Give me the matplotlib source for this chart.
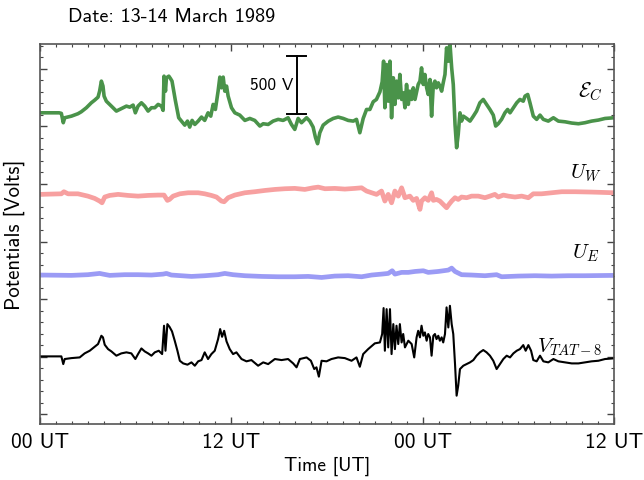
import matplotlib
matplotlib.use("Agg")
import matplotlib.pyplot as plt

plt.rcParams['mathtext.fontset'] = 'cm'

# ---------------- data (hours since 00 UT 13 March, volts) ----------------
ec_t = [0, 1.2, 1.34, 1.46, 1.55, 1.97, 2.38, 2.59, 2.91, 3.22, 3.43, 3.64, 3.74, 3.85, 3.95, 4.02,
        4.16, 4.37, 4.58, 4.79, 5.0, 5.21, 5.42, 5.63, 5.84, 5.98, 6.15, 6.36, 6.57, 6.78, 6.99,
        7.2, 7.41, 7.62, 7.72, 7.78, 7.87, 7.93, 8.08, 8.18, 8.28, 8.39, 8.49, 8.6, 8.7, 8.87,
        9.08, 9.25, 9.39, 9.54, 9.71, 9.92, 10.13, 10.33, 10.54, 10.71, 10.86, 11.0, 11.17, 11.28,
        11.38, 11.49, 11.59, 11.7, 11.8, 12.01, 12.22, 12.53, 12.85, 13.16, 13.47, 13.79, 14.0,
        14.31, 14.62, 14.94, 15.25, 15.56, 15.77, 15.98, 16.19, 16.4, 16.72, 16.92, 17.13, 17.28,
        17.41, 17.55, 17.76, 18.08, 18.39, 18.7, 19.02, 19.33, 19.65, 19.85, 20.06, 20.27, 20.48,
        20.69, 20.9, 21.1, 21.32, 21.46, 21.55, 21.63, 21.74, 21.84, 21.95, 22.05, 22.16, 22.26,
        22.36, 22.47, 22.57, 22.68, 22.78, 22.89, 22.99, 23.1, 23.2, 23.31, 23.41, 23.52, 23.72,
        23.83, 23.93, 24.04, 24.14, 24.25, 24.35, 24.46, 24.56, 24.67, 24.77, 24.87, 24.98, 25.08,
        25.19, 25.29, 25.4, 25.5, 25.61, 25.71, 25.82, 25.92, 26.03, 26.13, 26.23, 26.34, 26.44,
        26.55, 26.76, 26.97, 27.18, 27.38, 27.59, 27.8, 28.01, 28.22, 28.43, 28.58, 28.74, 28.95,
        29.16, 29.33, 29.48, 29.69, 29.9, 30.1, 30.31, 30.42, 30.59, 30.73, 30.94, 31.15, 31.36,
        31.57, 31.88, 32.2, 32.51, 32.93, 33.35, 33.77, 34.18, 34.6, 35.02, 35.44, 36.0]
ec_v = [17, 17, 12, -69, -26, -12, 9, 26, 61, 104, 127, 153, 205, 292, 249, 162,
        118, 90, 61, 32, 46, 61, 75, 66, 84, 17, 75, 104, 75, 32, 61,
        61, 90, 75, 38, 335, 205, 321, 335, 315, 292, 205, 124, 46, -26, -55,
        -90, -55, -107, -49, -84, -55, -20, -49, 17, -12, 90, 46, 205, 327,
        234, 327, 205, 249, 162, 61, 17, -3, -49, -32, -49, -98, -78,
        -84, -55, -40, -49, -26, -84, -127, -32, -69, -26, -55, -107, -199,
        -251, -156, -90, -55, -32, -20, -32, -49, -55, -40, -156, -32, 46,
        46, 113, 133, 199, 286, 465, 61, 436, 118, 465, -26, 321, 90,
        292, 147, 350, 133, 191, 61, 263, 90, 205, 133, 234, 133, 263,
        292, 407, 263, 350, 234, 176, 306, -12, 263, 292, 234, 277, 249,
        205, 277, 350, 581, 465, 624, 407, 263, -84, -286, -171, 17, -55,
        -12, -32, -55, -12, 32, 104, 133, 90, 46, -3, -98, -78, -40,
        17, 46, 17, 61, 104, 133, 118, 162, 176, 104, -12, -40, -3,
        -40, -55, -26, -55, -61, -72, -78, -69, -55, -46, -32, -26]

uw_t = [0, 1.34, 1.5, 1.76, 2.38, 3.0, 3.43, 3.74, 3.89, 4.06, 4.37, 4.9, 5.52, 6.15, 6.78,
        7.41, 7.78, 7.99, 8.12, 8.35, 8.77, 9.29, 9.92, 10.33, 10.75, 11.07, 11.38, 11.55, 11.8,
        12.22, 12.85, 13.47, 14.1, 14.73, 15.36, 15.98, 16.61, 17.13, 17.45, 17.87, 18.49, 19.12,
        19.75, 20.17, 20.48, 20.8, 21.11, 21.42, 21.63, 21.84, 22.05, 22.26, 22.47, 22.68, 22.89,
        23.2, 23.41, 23.62, 23.83, 23.93, 24.14, 24.35, 24.56, 24.67, 24.87, 25.08, 25.29, 25.5,
        25.65, 25.82, 26.03, 26.23, 26.44, 26.76, 27.07, 27.49, 27.91, 28.22, 28.53, 28.74, 29.06,
        29.37, 29.79, 30.21, 30.63, 30.94, 31.46, 32.09, 32.72, 33.56, 34.6, 36.0]
uw_v = [9, 14, 32, 14, 14, -6, -26, -49, -64, -14, 0, 9, 0, -6, 0,
        3, 3, -43, -35, -6, 14, 23, 23, 14, 0, -14, -49, -55, -20,
        3, 23, 32, 43, 52, 58, 61, 52, 66, 72, 58, 61, 55,
        61, 66, 38, 23, 9, 38, -49, 9, -64, 38, -6, 66, -20,
        -6, -43, -26, -121, -49, -20, -43, 23, -43, -35, -49, -78, -107,
        -78, -49, -20, -35, -14, -20, -6, -6, -20, -6, 9, -14, 3,
        -6, -14, -6, -20, 14, 14, 23, 32, 32, 29, 23]

ue_t = [0, 1.97, 3.0, 3.74, 3.95, 4.37, 5.31, 6.15, 6.99, 7.72, 7.93, 8.24, 8.87, 9.5, 10.33,
        11.17, 11.59, 12.1, 12.85, 13.9, 14.94, 15.98, 16.82, 17.66, 18.49, 19.33, 20.17, 20.8,
        21.42, 21.84, 22.09, 22.26, 22.68, 23.1, 23.52, 24.04, 24.35, 24.98, 25.61, 25.82, 26.03,
        26.44, 27.07, 27.91, 28.64, 28.95, 30.0, 31.05, 32.09, 33.14, 34.18, 36.0]
ue_v = [9, 6, 12, 23, 17, 6, 12, 12, 9, 17, 23, 9, 3, -3, 3,
        12, 23, 12, 3, -3, -6, -6, -3, -12, 0, 3, -6, 9,
        17, 23, 46, 17, 32, 32, 40, 46, 32, 40, 52, 69, 40,
        12, 9, 3, 12, -6, 0, 3, 0, 3, 3, 6]

vt_t = [0, 1.34, 1.46, 1.55, 1.97, 2.49, 2.8, 3.12, 3.43, 3.64, 3.85, 3.95, 4.06, 4.27, 4.48,
        4.79, 5.1, 5.42, 5.73, 5.98, 6.15, 6.36, 6.57, 6.78, 6.99, 7.2, 7.45, 7.66, 7.78, 7.87,
        7.99, 8.12, 8.28, 8.45, 8.62, 8.77, 8.98, 9.25, 9.5, 9.71, 9.92, 10.13, 10.33, 10.54,
        10.75, 10.96, 11.17, 11.3, 11.42, 11.55, 11.7, 11.9, 12.11, 12.32, 12.64, 12.95, 13.26,
        13.68, 14.0, 14.31, 14.73, 15.15, 15.56, 15.88, 16.09, 16.3, 16.72, 16.99, 17.2, 17.34,
        17.49, 17.66, 17.97, 18.28, 18.7, 19.12, 19.54, 19.85, 20.06, 20.27, 20.58, 21.0, 21.32,
        21.46, 21.55, 21.63, 21.74, 21.84, 21.95, 22.05, 22.16, 22.26, 22.36, 22.47, 22.57, 22.68,
        22.78, 22.89, 23.1, 23.31, 23.47, 23.62, 23.72, 23.83, 23.93, 24.04, 24.14, 24.25, 24.35,
        24.46, 24.56, 24.67, 24.77, 24.87, 24.98, 25.08, 25.19, 25.29, 25.4, 25.5, 25.61, 25.71,
        25.82, 25.92, 26.03, 26.13, 26.23, 26.34, 26.55, 26.76, 26.97, 27.18, 27.38, 27.59, 27.8,
        28.01, 28.22, 28.43, 28.64, 28.85, 29.06, 29.27, 29.48, 29.69, 29.9, 30.1, 30.31, 30.46,
        30.63, 30.8, 30.94, 31.15, 31.36, 31.57, 31.88, 32.2, 32.51, 32.93, 33.35, 33.77, 34.18,
        34.6, 35.02, 35.44, 36.0]
vt_v = [3, 3, -64, -20, -12, -6, 29, 52, 87, 110, 182, 168, 104, 66, 46,
        9, 29, 38, 29, -20, 23, 72, 46, 29, 9, 38, 52, 23, 269, 52,
        283, 260, 220, 139, 52, -35, -58, -69, -49, -78, -40, -29, 38, -20,
        23, 52, 153, 240, 173, 225, 133, 66, 23, 38, -20, -40, -29,
        -78, -49, -64, -20, -29, -20, -58, -92, -20, -6, -35, -107, -92,
        -173, -35, -40, -20, -6, -12, -35, -6, -87, 23, 66, 116, 124,
        197, 422, 52, 413, 81, 413, 23, 283, 66, 269, 110, 283, 124,
        197, 81, 139, 110, -6, 168, 225, 168, 269, 182, 211, 139, 197,
        168, 9, 182, 197, 153, 182, 139, 168, 124, 197, 428, 254, 442,
        283, 197, -64, -338, -251, -107, -78, -64, -49, -29, 9, 38, 58,
        38, 9, -35, -107, -64, -20, 9, -6, 29, 52, 66, 101, 52,
        101, 52, -29, -40, 9, -40, -49, -20, -40, -49, -58, -58, -49,
        -40, -35, -20, -14]

offsets = {'ec': 2100, 'uw': 1400, 'ue': 700, 'vt': 0}
xtick_pos = [0, 12, 24, 36]
xtick_labels = ['00 UT', '12 UT', '00 UT', '12 UT']

# ---------------- figure ----------------
fig = plt.figure(figsize=(6.44, 4.81), dpi=100)
ax = fig.add_axes([0.0621, 0.1164, 0.8913, 0.79])

ax.plot(ec_t, [v + offsets['ec'] for v in ec_v], color='#4a934a', lw=2.6, solid_joinstyle='round')
ax.plot(uw_t, [v + offsets['uw'] for v in uw_v], color='#f7a0a0', lw=3.4, solid_joinstyle='round')
ax.plot(ue_t, [v + offsets['ue'] for v in ue_v], color='#9b9bf5', lw=3.4, solid_joinstyle='round')
ax.plot(vt_t, [v + offsets['vt'] for v in vt_v], color='black', lw=1.5, solid_joinstyle='round')

ax.set_xlim(0, 36)
ax.set_ylim(-584, 2714)

sf = 'cmss10'
ax.set_xticks(xtick_pos)
ax.set_xticklabels(xtick_labels, fontfamily=sf, fontsize=15.5)
ax.set_xticks(range(0, 37), minor=True)
ax.set_yticks(range(-500, 2701, 500))
ax.set_yticks(range(-500, 2701, 100), minor=True)
ax.set_yticklabels([])
ax.tick_params(which='both', direction='in', top=True, right=True, color='#444444')
ax.tick_params(which='major', length=5, width=1)
ax.tick_params(which='minor', length=2.5, width=0.8)
ax.tick_params(axis='x', pad=6)
for s in ax.spines.values():
    s.set_color('#555555')
    s.set_linewidth(1.2)

ax.set_xlabel('Time [UT]', fontfamily=sf, fontsize=14, labelpad=3)
ax.set_ylabel('Potentials [Volts]', fontfamily=sf, fontsize=15, labelpad=7)
fig.text(68 / 644, 1 - 17 / 481, 'Date: 13-14 March 1989', fontfamily=sf, fontsize=14.5,
         ha='left', va='center')

# scale bar
bx = 16.1
ax.plot([bx, bx], [2110, 2610], color='black', lw=1.4)
ax.plot([bx - 0.6, bx + 0.6], [2110, 2110], color='black', lw=1.4)
ax.plot([bx - 0.6, bx + 0.6], [2610, 2610], color='black', lw=1.4)
ax.text(bx - 0.2, 2360, '500 V', fontfamily=sf, fontsize=12.5, ha='right', va='center')

# series labels
ax.text(34.5, 2306, r'$\mathcal{E}_C$', fontsize=15, ha='center', va='center')
ax.text(34.25, 1603, r'$U_W$', fontsize=15, ha='center', va='center')
ax.text(34.25, 909, r'$U_E$', fontsize=15, ha='center', va='center')
ax.text(33.2, 93, r'$V_{TAT-8}$', fontsize=15, ha='center', va='center')

fig.savefig('out.png', dpi=100)
